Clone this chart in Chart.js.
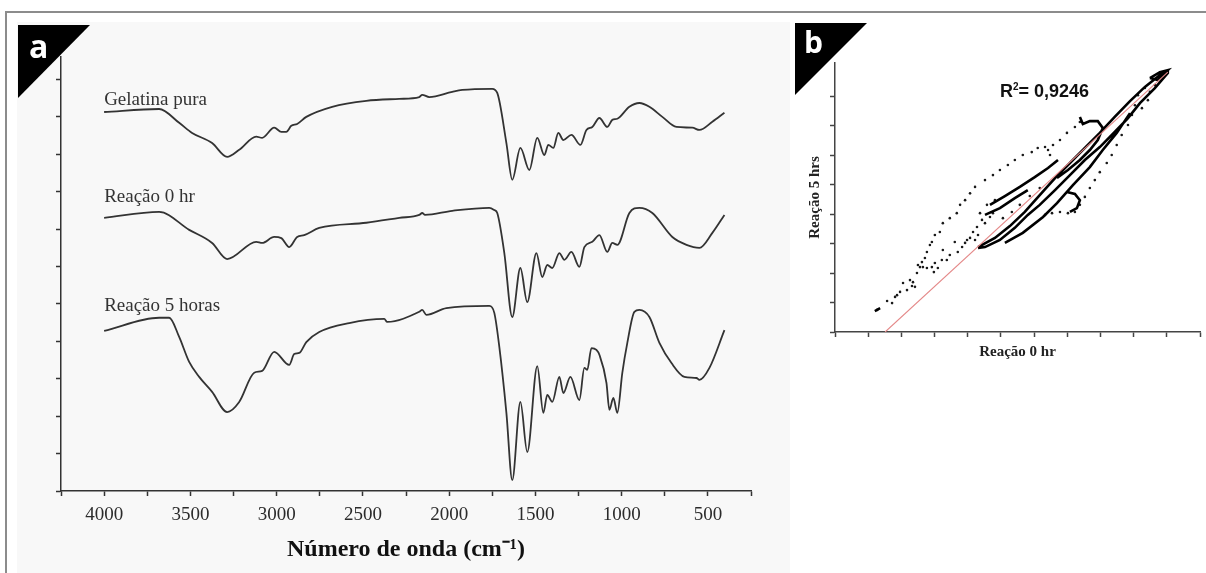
<!DOCTYPE html>
<html>
<head>
<meta charset="utf-8">
<script src="https://cdn.jsdelivr.net/npm/chart.js@4.4.1/dist/chart.umd.min.js"></script>
<style>
  body { margin: 0; width: 1206px; height: 573px; background: #fff; position: relative; overflow: hidden; }
  .frame-top { position: absolute; left: 5px; top: 11px; width: 1201px; height: 2px; background: #8c8c8c; }
  .frame-left { position: absolute; left: 5px; top: 11px; width: 2px; height: 562px; background: #8c8c8c; }
  #panel-a { position: absolute; left: 17px; top: 22px; width: 773px; height: 551px; background: #f8f8f8; }
  #panel-b { position: absolute; left: 795px; top: 22px; width: 411px; height: 356px; background: #fff; }
  canvas { position: absolute; left: 0; top: 0; }
  .corner { position: absolute; background: #000; clip-path: polygon(0 0, 100% 0, 0 100%); }
  .corner-letter { position: absolute; color: #fff; font-family: "Open Sans", sans-serif; font-weight: 700; line-height: 1; }
</style>
</head>
<body>
<div class="frame-top"></div>
<div class="frame-left"></div>

<div id="panel-a"><canvas id="chart-a" width="773" height="551"></canvas></div>
<div id="panel-b"><canvas id="chart-b" width="411" height="356"></canvas></div>

<div class="corner" style="left:18px; top:25px; width:72px; height:73px;"></div>
<span class="corner-letter" style="left:29px; top:30px; font-size:32px;">a</span>
<div class="corner" style="left:795px; top:23px; width:72px; height:72px;"></div>
<span class="corner-letter" style="left:804px; top:27px; font-size:30px;">b</span>

<script>
// panel a: FTIR spectra (wavenumber in cm-1, transmittance in arbitrary offset units)
const waveLabels = [4000, 3500, 3000, 2500, 2000, 1500, 1000, 500];
const seriesNames = ["Gelatina pura", "Reação 0 hr", "Reação 5 horas"];

const gelatinaX = [4000, 3681, 3565, 3490, 3374, 3287, 3217, 3118, 3084, 3014, 2973, 2944, 2915, 2881, 2828, 2678, 2480, 2289, 2173, 2156, 2115, 1982, 1924, 1750, 1721, 1668, 1634, 1587, 1535, 1489, 1448, 1425, 1396, 1367, 1338, 1291, 1239, 1204, 1170, 1129, 1083, 1054, 1025, 955, 897, 839, 764, 682, 590, 549, 474, 404];
const gelatinaY = [10.13, 10.21, 9.84, 9.57, 9.30, 8.93, 9.12, 9.47, 9.44, 9.71, 9.60, 9.60, 9.76, 9.81, 10.00, 10.27, 10.43, 10.48, 10.53, 10.59, 10.53, 10.67, 10.72, 10.75, 10.64, 9.30, 8.32, 9.17, 8.58, 9.44, 8.98, 9.25, 9.17, 9.57, 9.38, 9.52, 9.25, 9.65, 9.73, 9.97, 9.73, 9.92, 9.95, 10.27, 10.37, 10.27, 10.00, 9.73, 9.71, 9.65, 9.87, 10.11];

const reacao0X = [4000, 3681, 3507, 3374, 3287, 3118, 3084, 3014, 2973, 2927, 2881, 2840, 2753, 2480, 2289, 2173, 2156, 2140, 1982, 1767, 1738, 1721, 1680, 1634, 1587, 1547, 1494, 1460, 1431, 1402, 1361, 1332, 1291, 1245, 1216, 1170, 1129, 1083, 1054, 1025, 955, 897, 822, 706, 624, 549, 474, 404];
const reacao0Y = [7.30, 7.46, 6.98, 6.63, 6.20, 6.66, 6.63, 6.79, 6.76, 6.52, 6.79, 6.84, 7.03, 7.17, 7.30, 7.38, 7.43, 7.38, 7.49, 7.57, 7.51, 7.43, 6.36, 4.65, 5.96, 5.05, 6.36, 5.72, 6.04, 5.96, 6.36, 6.18, 6.39, 5.99, 6.52, 6.66, 6.84, 6.39, 6.63, 6.58, 7.43, 7.57, 7.43, 6.79, 6.58, 6.50, 6.90, 7.38];

const reacao5X = [4000, 3681, 3623, 3565, 3507, 3449, 3374, 3287, 3217, 3130, 3084, 3014, 2927, 2898, 2869, 2828, 2753, 2579, 2376, 2359, 2173, 2156, 2132, 2016, 1767, 1738, 1709, 1668, 1634, 1587, 1547, 1489, 1454, 1431, 1402, 1361, 1338, 1297, 1245, 1216, 1199, 1175, 1146, 1129, 1088, 1071, 1048, 1025, 996, 967, 926, 897, 839, 781, 711, 636, 566, 549, 491, 404];
const reacao5Y = [4.28, 4.63, 4.63, 4.12, 3.45, 3.05, 2.65, 2.11, 2.38, 3.16, 3.21, 3.72, 3.37, 3.66, 3.69, 3.98, 4.25, 4.49, 4.60, 4.52, 4.79, 4.84, 4.71, 4.89, 4.95, 4.76, 3.85, 2.09, 0.29, 2.38, 1.04, 3.34, 2.09, 2.57, 2.38, 3.05, 2.62, 3.05, 2.43, 3.29, 3.24, 3.82, 3.77, 3.64, 2.89, 2.17, 2.49, 2.09, 3.16, 3.96, 4.79, 4.84, 4.65, 3.96, 3.42, 3.05, 3.02, 2.97, 3.29, 4.30];

// panel b: correlation Reação 0 hr vs Reação 5 hrs
const sparseX = [1.27, 1.57, 1.72, 1.81, 1.96, 2.05, 2.17, 2.26, 2.32, 2.35, 2.47, 2.56, 2.62, 2.71, 2.77, 2.86, 2.92, 3.01, 3.16, 3.25, 3.46, 3.67, 3.77, 3.92, 4.07, 4.22, 4.52, 4.76, 4.97, 5.21, 5.42, 5.66, 5.93, 6.11, 6.33, 6.42, 6.48, 6.57, 6.78, 6.99, 7.23, 7.38,
  2.50, 2.65, 2.77, 2.92, 3.01, 2.98, 3.10, 3.22, 3.25, 3.37, 3.46, 3.61, 3.70, 3.83, 3.92, 3.98, 4.07, 4.22, 4.16, 4.28, 4.31, 4.43, 4.52, 4.67, 4.76, 1.87, 2.41, 4.37, 4.58, 4.82, 5.06, 5.33, 5.57, 5.87, 6.17,
  9.13, 9.04, 8.95, 8.83, 8.64, 8.49, 8.34, 8.19, 7.98, 7.83, 7.68, 7.53, 7.38, 7.23, 7.02, 6.78, 6.54, 6.33, 9.34, 9.49, 9.64, 9.43, 9.25];
const sparseY = [0.75, 1.05, 0.98, 1.19, 1.36, 1.66, 1.42, 1.76, 1.56, 1.69, 2.00, 2.20, 2.37, 2.51, 2.71, 2.95, 3.05, 3.29, 3.39, 3.69, 3.86, 4.03, 4.31, 4.47, 4.70, 4.92, 5.15, 5.32, 5.49, 5.66, 5.83, 6.00, 6.10, 6.24, 6.27, 6.17, 6.00, 6.34, 6.51, 6.75, 6.95, 7.12,
  2.27, 2.20, 2.17, 2.20, 2.34, 2.03, 2.17, 2.44, 2.78, 2.44, 2.61, 3.05, 2.71, 2.88, 3.02, 3.12, 3.19, 3.12, 3.39, 3.56, 3.29, 3.80, 3.69, 3.90, 4.03, 1.25, 1.53, 4.03, 4.31, 4.47, 3.86, 4.07, 4.31, 4.61, 4.88,
  8.03, 7.69, 7.36, 7.02, 6.68, 6.34, 6.00, 5.73, 5.42, 5.15, 4.88, 4.58, 4.31, 4.07, 4.03, 4.07, 4.03, 3.97, 8.27, 8.14, 8.37, 7.86, 7.59];

// dense runs of points, null separates runs
const denseX = [1.20, 1.36, null,
  4.31, 4.82, 5.27, 5.72, 6.17, 6.63, 7.08, 7.53, 7.98, 8.43, 8.89, 9.34, 9.79, 10.03, 10.03, 9.64, 9.19, 8.83, 8.43, 7.98, 7.53, 7.08, 6.63, 6.17, 5.81, 5.42, 4.97, 4.52, 4.31, null,
  5.12, 5.66, 6.27, 6.69, 7.17, 7.68, 8.07, 8.49, 8.89, null,
  4.67, 5.12, 5.57, 6.02, 6.42, 6.72, null,
  4.52, 4.97, 5.42, 5.81, null,
  7.38, 7.47, 7.68, 7.92, 8.07, 7.92, 7.68, 7.38, 7.02, 6.69, null,
  6.99, 7.23, 7.38, 7.29, 7.08, null,
  9.49, 9.79, 10.03, 9.73, 9.49];
const denseY = [0.71, 0.81, null,
  2.88, 3.19, 3.59, 4.07, 4.64, 5.22, 5.73, 6.24, 6.75, 7.29, 7.83, 8.31, 8.71, 8.85, 8.78, 8.27, 7.76, 7.25, 6.78, 6.27, 5.83, 5.32, 4.81, 4.31, 3.97, 3.53, 3.12, 2.88, 2.85, null,
  3.02, 3.36, 3.90, 4.37, 4.98, 5.59, 6.17, 6.75, 7.42, null,
  4.31, 4.61, 4.92, 5.25, 5.56, 5.83, null,
  3.97, 4.20, 4.54, 4.81, null,
  7.29, 7.05, 7.15, 7.15, 6.92, 6.51, 6.17, 5.83, 5.49, 5.22, null,
  4.75, 4.68, 4.47, 4.20, 4.07, null,
  8.61, 8.81, 8.88, 8.54, 8.61];

const fitX = [1.51, 10.03];
const fitY = [0, 8.81];
const r2Text = "0,9246";

const serif = '"Liberation Serif", "Times New Roman", serif';
const sans = '"Liberation Sans", Arial, sans-serif';

function pairs(xs, ys) {
  return xs.map((x, i) => ({ x: x, y: ys[i] }));
}

function spectrum(xs, ys) {
  return {
    data: pairs(xs, ys),
    borderColor: "#333",
    borderWidth: 1.8,
    pointRadius: 0,
    cubicInterpolationMode: "monotone",
  };
}

function axisLines(color, len) {
  return {
    grid: { drawOnChartArea: false, drawTicks: true, tickLength: len, tickColor: color, tickWidth: 1.5 },
    border: { color: color, width: 1.5 },
  };
}

const curveLabels = {
  id: "curveLabels",
  afterDatasetsDraw(chart) {
    const { ctx, scales } = chart;
    const levels = [10.45, 7.86, 4.95];
    ctx.save();
    ctx.font = "19px " + serif;
    ctx.fillStyle = "#333";
    ctx.textBaseline = "middle";
    seriesNames.forEach((name, i) => {
      ctx.fillText(name, scales.x.getPixelForValue(4000), scales.y.getPixelForValue(levels[i]));
    });
    ctx.restore();
  },
};

const r2Label = {
  id: "r2Label",
  afterDatasetsDraw(chart) {
    const { ctx, scales } = chart;
    let x = scales.x.getPixelForValue(4.97);
    const y = scales.y.getPixelForValue(7.97);
    ctx.save();
    ctx.fillStyle = "#111";
    ctx.textBaseline = "alphabetic";
    ctx.font = "bold 18px " + sans;
    ctx.fillText("R", x, y);
    x += ctx.measureText("R").width;
    ctx.font = "bold 10px " + sans;
    ctx.fillText("2", x, y - 7);
    x += ctx.measureText("2").width;
    ctx.font = "bold 18px " + sans;
    ctx.fillText("= " + r2Text, x, y);
    ctx.restore();
  },
};

function loadSpectra() {
  const x = axisLines("#333", 5);
  const y = axisLines("#333", 5);

  new Chart(document.getElementById("chart-a"), {
    type: "line",
    data: {
      datasets: [
        spectrum(gelatinaX, gelatinaY),
        spectrum(reacao0X, reacao0Y),
        spectrum(reacao5X, reacao5Y),
      ],
    },
    options: {
      responsive: false,
      animation: false,
      layout: { padding: { top: 35, right: 39, left: 0, bottom: 0 } },
      plugins: { legend: { display: false }, tooltip: { enabled: false } },
      scales: {
        x: {
          type: "linear",
          reverse: true,
          min: 250,
          max: 4250,
          ...x,
          ticks: {
            stepSize: 250,
            autoSkip: false,
            maxRotation: 0,
            padding: 8,
            color: "#2b2b2b",
            font: { family: serif, size: 19 },
            callback: (v) => (waveLabels.includes(v) ? String(v) : ""),
          },
          title: {
            display: true,
            text: "Número de onda (cm⁻¹)",
            color: "#111",
            font: { family: serif, size: 24, weight: "bold" },
            padding: { top: 0, bottom: 9 },
          },
          afterFit: (s) => { s.height = 82; },
        },
        y: {
          min: 0,
          max: 11.6,
          ...y,
          ticks: { stepSize: 1, display: false },
          afterBuildTicks: (s) => { s.ticks = s.ticks.filter((t) => Number.isInteger(t.value)); },
          afterFit: (s) => { s.width = 44; },
        },
      },
    },
    plugins: [curveLabels],
  });
}

function loadCorrelation() {
  const x = axisLines("#444", 5);
  const y = axisLines("#444", 5);

  new Chart(document.getElementById("chart-b"), {
    type: "scatter",
    data: {
      datasets: [
        { data: pairs(fitX, fitY), showLine: true, borderColor: "#e48888", borderWidth: 1.1, pointRadius: 0 },
        { data: pairs(denseX, denseY), showLine: true, spanGaps: false, borderColor: "#000", borderWidth: 2.6, pointRadius: 0 },
        { data: pairs(sparseX, sparseY), showLine: false, pointRadius: 1.3, backgroundColor: "#1a1a1a", borderWidth: 0 },
      ],
    },
    options: {
      responsive: false,
      animation: false,
      layout: { padding: { top: 41, right: 6, left: 0, bottom: 0 } },
      plugins: { legend: { display: false }, tooltip: { enabled: false } },
      scales: {
        x: {
          type: "linear",
          min: 0,
          max: 11,
          ...x,
          ticks: { stepSize: 1, display: false },
          title: {
            display: true,
            text: "Reação 0 hr",
            color: "#222",
            font: { family: serif, size: 15, weight: "bold" },
            padding: { top: 0, bottom: 17 },
          },
          afterFit: (s) => { s.height = 46; },
        },
        y: {
          min: 0,
          max: 9.12,
          ...y,
          ticks: { stepSize: 1, display: false },
          title: {
            display: true,
            text: "Reação 5 hrs",
            color: "#222",
            font: { family: serif, size: 15, weight: "bold" },
            padding: { top: 11, bottom: 0 },
          },
          afterBuildTicks: (s) => { s.ticks = s.ticks.filter((t) => Number.isInteger(t.value)); },
          afterFit: (s) => { s.width = 40; },
        },
      },
    },
    plugins: [r2Label],
  });
}

loadSpectra();
loadCorrelation();
</script>
</body>
</html>
